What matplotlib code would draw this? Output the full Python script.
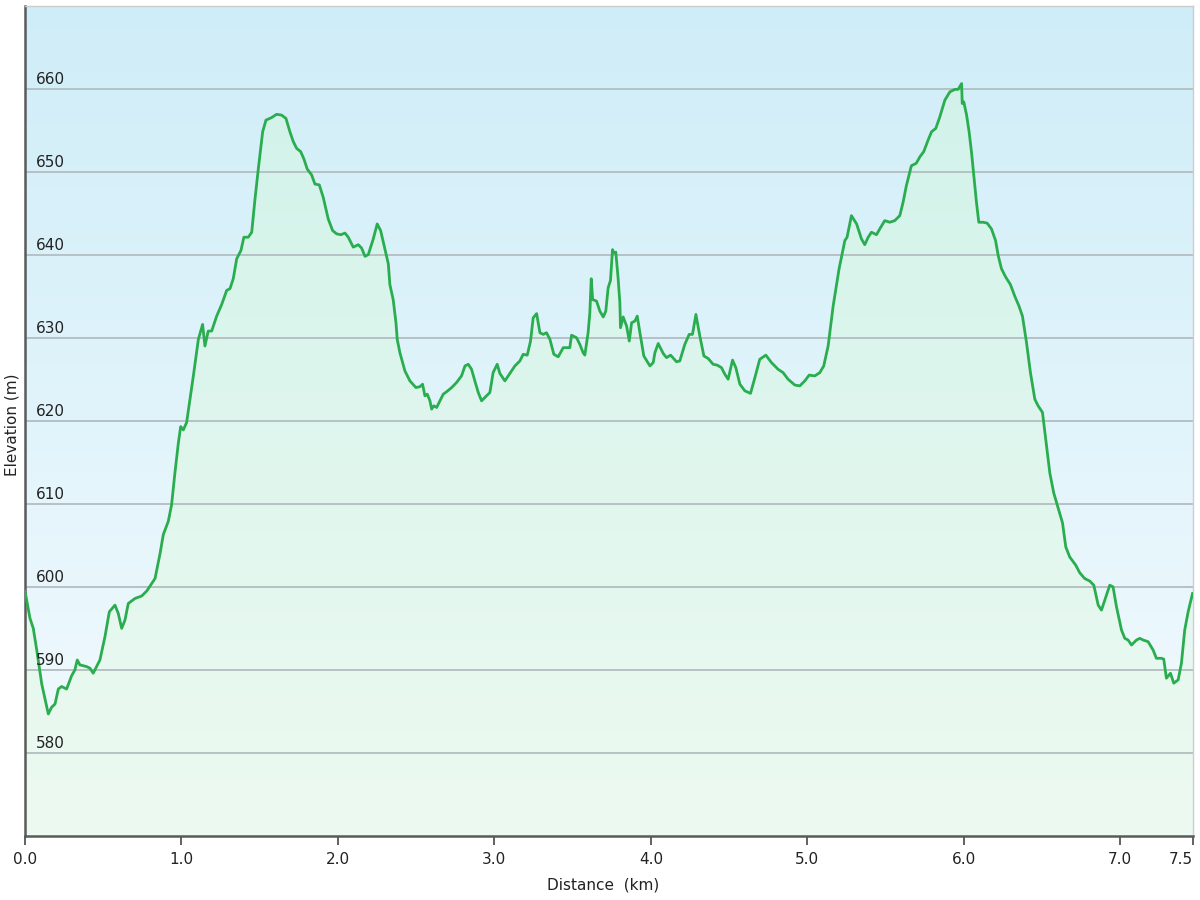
import numpy as np
import matplotlib
matplotlib.use('Agg')
import matplotlib.pyplot as plt
from matplotlib.colors import LinearSegmentedColormap
import matplotlib.transforms as mtransforms

# elevation profile (distance in km, elevation in m)
dist_km = [
    0.000, 0.032, 0.053, 0.075, 0.107, 0.149, 0.170, 0.192, 0.213, 0.234,
    0.266, 0.298, 0.319, 0.334, 0.351, 0.394, 0.415, 0.436, 0.479, 0.511,
    0.539, 0.575, 0.596, 0.618, 0.639, 0.660, 0.703, 0.746, 0.778, 0.831,
    0.863, 0.884, 0.916, 0.937, 0.958, 0.980, 0.995, 1.012, 1.033, 1.076,
    1.108, 1.135, 1.150, 1.171, 1.193, 1.225, 1.257, 1.289, 1.310, 1.331,
    1.353, 1.380, 1.399, 1.427, 1.449, 1.470, 1.491, 1.519, 1.540, 1.576,
    1.608, 1.640, 1.668, 1.693, 1.715, 1.736, 1.762, 1.783, 1.804, 1.832,
    1.853, 1.881, 1.906, 1.938, 1.966, 1.992, 2.019, 2.045, 2.066, 2.098,
    2.130, 2.151, 2.173, 2.194, 2.226, 2.251, 2.273, 2.300, 2.322, 2.332,
    2.353, 2.371, 2.379, 2.396, 2.428, 2.460, 2.498, 2.524, 2.541, 2.556,
    2.571, 2.588, 2.599, 2.613, 2.631, 2.652, 2.673, 2.695, 2.727, 2.758,
    2.790, 2.812, 2.833, 2.854, 2.875, 2.897, 2.918, 2.950, 2.971, 2.992,
    3.018, 3.035, 3.067, 3.099, 3.131, 3.163, 3.184, 3.210, 3.231, 3.248,
    3.270, 3.291, 3.312, 3.333, 3.355, 3.380, 3.408, 3.440, 3.482, 3.493,
    3.525, 3.546, 3.567, 3.578, 3.599, 3.610, 3.619, 3.628, 3.653, 3.674,
    3.696, 3.712, 3.727, 3.742, 3.755, 3.764, 3.776, 3.791, 3.802, 3.806,
    3.823, 3.845, 3.862, 3.877, 3.898, 3.913, 3.930, 3.955, 3.994, 4.015,
    4.026, 4.047, 4.079, 4.100, 4.126, 4.164, 4.185, 4.217, 4.245, 4.266,
    4.288, 4.313, 4.339, 4.366, 4.398, 4.424, 4.451, 4.473, 4.494, 4.522,
    4.543, 4.569, 4.601, 4.637, 4.665, 4.696, 4.735, 4.771, 4.813, 4.845,
    4.877, 4.920, 4.952, 4.984, 5.012, 5.048, 5.080, 5.105, 5.133, 5.165,
    5.203, 5.240, 5.254, 5.282, 5.315, 5.346, 5.367, 5.389, 5.410, 5.442,
    5.463, 5.495, 5.527, 5.559, 5.591, 5.612, 5.633, 5.665, 5.696, 5.720,
    5.744, 5.772, 5.794, 5.821, 5.847, 5.879, 5.911, 5.943, 5.964, 5.986,
    5.990, 6.000, 6.018, 6.034, 6.049, 6.064, 6.081, 6.096, 6.123, 6.149,
    6.177, 6.203, 6.220, 6.241, 6.268, 6.298, 6.326, 6.353, 6.375, 6.401,
    6.426, 6.454, 6.475, 6.503, 6.524, 6.550, 6.575, 6.603, 6.631, 6.652,
    6.677, 6.716, 6.741, 6.773, 6.805, 6.831, 6.859, 6.880, 6.901, 6.933,
    6.954, 6.976, 7.008, 7.029, 7.050, 7.072, 7.104, 7.125, 7.146, 7.178,
    7.210, 7.231, 7.263, 7.278, 7.295, 7.321, 7.342, 7.370, 7.391, 7.412,
    7.434, 7.462,
]
elev_m = [
    599.5, 596.2, 595.0, 592.4, 588.3, 584.7, 585.5, 585.9, 587.7, 588.0,
    587.7, 589.3, 590.0, 591.2, 590.6, 590.4, 590.2, 589.6, 591.2, 594.0,
    597.0, 597.8, 596.8, 595.0, 596.0, 598.0, 598.6, 598.9, 599.5, 601.0,
    604.0, 606.3, 607.9, 609.9, 613.7, 617.3, 619.3, 618.9, 619.8, 625.4,
    629.8, 631.6, 629.0, 630.8, 630.8, 632.6, 634.0, 635.7, 635.9, 637.1,
    639.5, 640.5, 642.1, 642.1, 642.7, 646.7, 650.3, 654.8, 656.2, 656.5,
    656.9, 656.8, 656.4, 654.8, 653.6, 652.8, 652.4, 651.5, 650.3, 649.6,
    648.5, 648.4, 646.9, 644.3, 642.9, 642.5, 642.4, 642.6, 642.1, 640.9,
    641.2, 640.8, 639.8, 640.0, 641.9, 643.7, 642.9, 640.7, 638.9, 636.4,
    634.6, 631.8, 629.8, 628.2, 626.0, 624.8, 624.0, 624.1, 624.4, 623.0,
    623.2, 622.4, 621.4, 621.8, 621.6, 622.4, 623.2, 623.5, 624.0, 624.6,
    625.4, 626.6, 626.8, 626.2, 624.8, 623.4, 622.4, 623.0, 623.4, 625.8,
    626.8, 625.7, 624.8, 625.7, 626.6, 627.2, 628.0, 627.9, 629.6, 632.4,
    632.9, 630.6, 630.4, 630.6, 629.8, 628.0, 627.7, 628.8, 628.8, 630.3,
    630.0, 629.2, 628.2, 627.9, 630.6, 633.0, 637.1, 634.6, 634.4, 633.2,
    632.5, 633.2, 636.0, 636.9, 640.6, 640.2, 640.3, 637.1, 634.2, 631.2,
    632.5, 631.4, 629.6, 631.8, 632.0, 632.6, 630.6, 627.8, 626.6, 627.0,
    628.2, 629.3, 628.1, 627.6, 627.9, 627.1, 627.2, 629.2, 630.4, 630.4,
    632.8, 630.2, 627.8, 627.5, 626.8, 626.7, 626.4, 625.6, 625.0, 627.3,
    626.4, 624.4, 623.6, 623.3, 625.2, 627.4, 627.9, 627.0, 626.2, 625.8,
    625.0, 624.3, 624.2, 624.8, 625.5, 625.4, 625.8, 626.6, 629.0, 633.8,
    638.3, 641.7, 642.1, 644.7, 643.7, 641.9, 641.2, 642.1, 642.7, 642.4,
    643.1, 644.1, 643.9, 644.1, 644.7, 646.3, 648.3, 650.7, 651.0, 651.8,
    652.4, 653.8, 654.8, 655.2, 656.6, 658.6, 659.6, 659.9, 659.9, 660.6,
    658.2, 658.4, 656.8, 654.8, 652.4, 649.5, 646.3, 643.9, 643.9, 643.8,
    643.1, 641.7, 639.9, 638.3, 637.3, 636.4, 635.0, 633.8, 632.6, 629.4,
    625.8, 622.6, 621.8, 621.0, 617.7, 613.7, 611.3, 609.5, 607.7, 604.8,
    603.6, 602.6, 601.7, 601.0, 600.7, 600.2, 597.8, 597.2, 598.4, 600.2,
    600.0, 597.6, 594.8, 593.8, 593.6, 593.0, 593.6, 593.8, 593.6, 593.4,
    592.4, 591.4, 591.4, 591.3, 589.0, 589.6, 588.4, 588.8, 590.8, 594.8,
    597.0, 599.2,
]

x_ticks = [0, 1, 2, 3, 4, 5, 6, 7, 7.465]
x_tick_labels = ['0.0', '1.0', '2.0', '3.0', '4.0', '5.0', '6.0', '7.0', '7.5']
y_grid = [580, 590, 600, 610, 620, 630, 640, 650, 660]

X_MAX = 7.465
Y_MIN, Y_MAX = 570, 670
TEXT_COLOR = '#222222'

plt.rcParams['font.family'] = ['DejaVu Sans']

fig = plt.figure(figsize=(12, 9), dpi=100)
ax = fig.add_axes([25 / 1200, 64 / 900, 1168 / 1200, 830.5 / 900])

# background: light blue at top fading to near white
bg_cmap = LinearSegmentedColormap.from_list('bg', ['#f4fbfe', '#cfedf8'])
grad = np.linspace(0, 1, 256).reshape(-1, 1)
ax.imshow(grad, cmap=bg_cmap, origin='lower', aspect='auto',
          extent=[0, X_MAX, Y_MIN, Y_MAX], zorder=0)

# area under profile: mint gradient clipped to the profile polygon
poly = ax.fill_between(dist_km, elev_m, Y_MIN, facecolor='none',
                       edgecolor='none', zorder=1)
fill_cmap = LinearSegmentedColormap.from_list('fill', ['#edfaf1', '#cff2e9'])
fill_img = ax.imshow(grad, cmap=fill_cmap, origin='lower', aspect='auto',
                     extent=[0, X_MAX, Y_MIN, Y_MAX], zorder=1)
fill_img.set_clip_path(poly.get_paths()[0], transform=ax.transData)

for v in y_grid:
    ax.axhline(v, color='#b3bdc1', lw=1.3, zorder=2)

ax.plot(dist_km, elev_m, color='#2aad4e', lw=2.0, zorder=3,
        solid_joinstyle='round')

ax.set_xlim(0, X_MAX)
ax.set_ylim(Y_MIN, Y_MAX)

# y labels sit inside the plot, just above each gridline
trans = mtransforms.blended_transform_factory(ax.transAxes, ax.transData)
for v in y_grid:
    ax.text(0.0094, v + 0.6, str(v), transform=trans, ha='left',
            va='baseline', fontsize=11, color=TEXT_COLOR, zorder=4)
ax.set_yticks([])

ax.set_xticks(x_ticks)
ax.set_xticklabels(x_tick_labels, fontsize=11, color=TEXT_COLOR)
ax.get_xticklabels()[-1].set_horizontalalignment('right')
ax.tick_params(axis='x', direction='out', length=6.5, width=1.3,
               color='#555555', pad=5)

for side in ['left', 'bottom']:
    ax.spines[side].set_color('#5a5a5a')
    ax.spines[side].set_linewidth(1.8)
for side in ['top', 'right']:
    ax.spines[side].set_color('#cccccc')
    ax.spines[side].set_linewidth(1.0)

fig.text(603 / 1200, 1 - 885 / 900, 'Distance  (km)', ha='center',
         va='center', fontsize=11, color=TEXT_COLOR)
fig.text(12 / 1200, 1 - 425 / 900, 'Elevation (m)', ha='center',
         va='center', rotation=90, fontsize=11, color=TEXT_COLOR)

fig.savefig('out.png', dpi=100)
plt.close(fig)
